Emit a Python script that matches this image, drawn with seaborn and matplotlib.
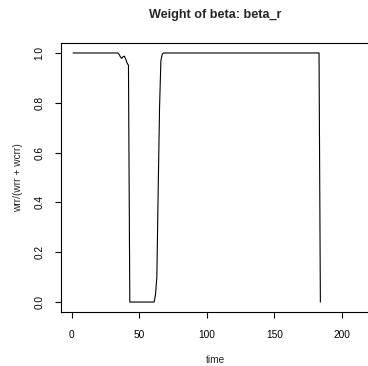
import matplotlib
matplotlib.use("Agg")
import matplotlib.pyplot as plt
import seaborn as sns
import pandas as pd

# Weight series: breakpoints of the piecewise-linear trace over time
time = [1, 34, 35, 36, 37, 38, 39, 40, 41, 42, 43, 60, 61, 62, 63, 64, 65, 66, 67, 68, 183, 184]
weight = [1.0, 1.0, 0.995, 0.985, 0.978, 0.985, 0.987, 0.975, 0.96, 0.95, 0.0, 0.0, 0.0,
          0.03, 0.10, 0.45, 0.78, 0.97, 0.995, 1.0, 1.0, 0.0]

x_ticks = [0, 50, 100, 150, 200]
y_ticks = [0.0, 0.2, 0.4, 0.6, 0.8, 1.0]
y_tick_labels = ["0.0", "0.2", "0.4", "0.6", "0.8", "1.0"]

df = pd.DataFrame({"time": time, "weight": weight})

sns.set_theme(style="ticks")
plt.rcParams["font.family"] = ["Liberation Sans", "DejaVu Sans"]

fig = plt.figure(figsize=(3.68, 3.66), dpi=100)
ax = fig.add_axes([0.1658, 0.1475, 0.8370, 0.735])

sns.lineplot(data=df, x="time", y="weight", estimator=None, sort=False,
             color="black", linewidth=0.8, ax=ax)

ax.set_xlim(-7.9, 220)
ax.set_ylim(-0.04, 1.04)
ax.set_xticks(x_ticks)
ax.set_xticklabels([str(v) for v in x_ticks])
ax.set_yticks(y_ticks)
ax.set_yticklabels(y_tick_labels, rotation=90, va="center")

for s in ax.spines.values():
    s.set_visible(True)
    s.set_color("black")
    s.set_linewidth(0.8)

ax.tick_params(axis="both", direction="out", length=4.5, width=0.8, color="black",
               labelsize=7.3, labelcolor="black")
ax.tick_params(axis="x", pad=8.5)
ax.tick_params(axis="y", pad=7.5)

ax.set_xlabel("time", fontsize=7.3, labelpad=11)
ax.set_ylabel("wrr/(wrr + wcrr)", fontsize=7.3, labelpad=8.5)
ax.set_title("Weight of beta: beta_r", fontsize=9.1, fontweight="bold", pad=18)

fig.savefig("out.png", dpi=100)
